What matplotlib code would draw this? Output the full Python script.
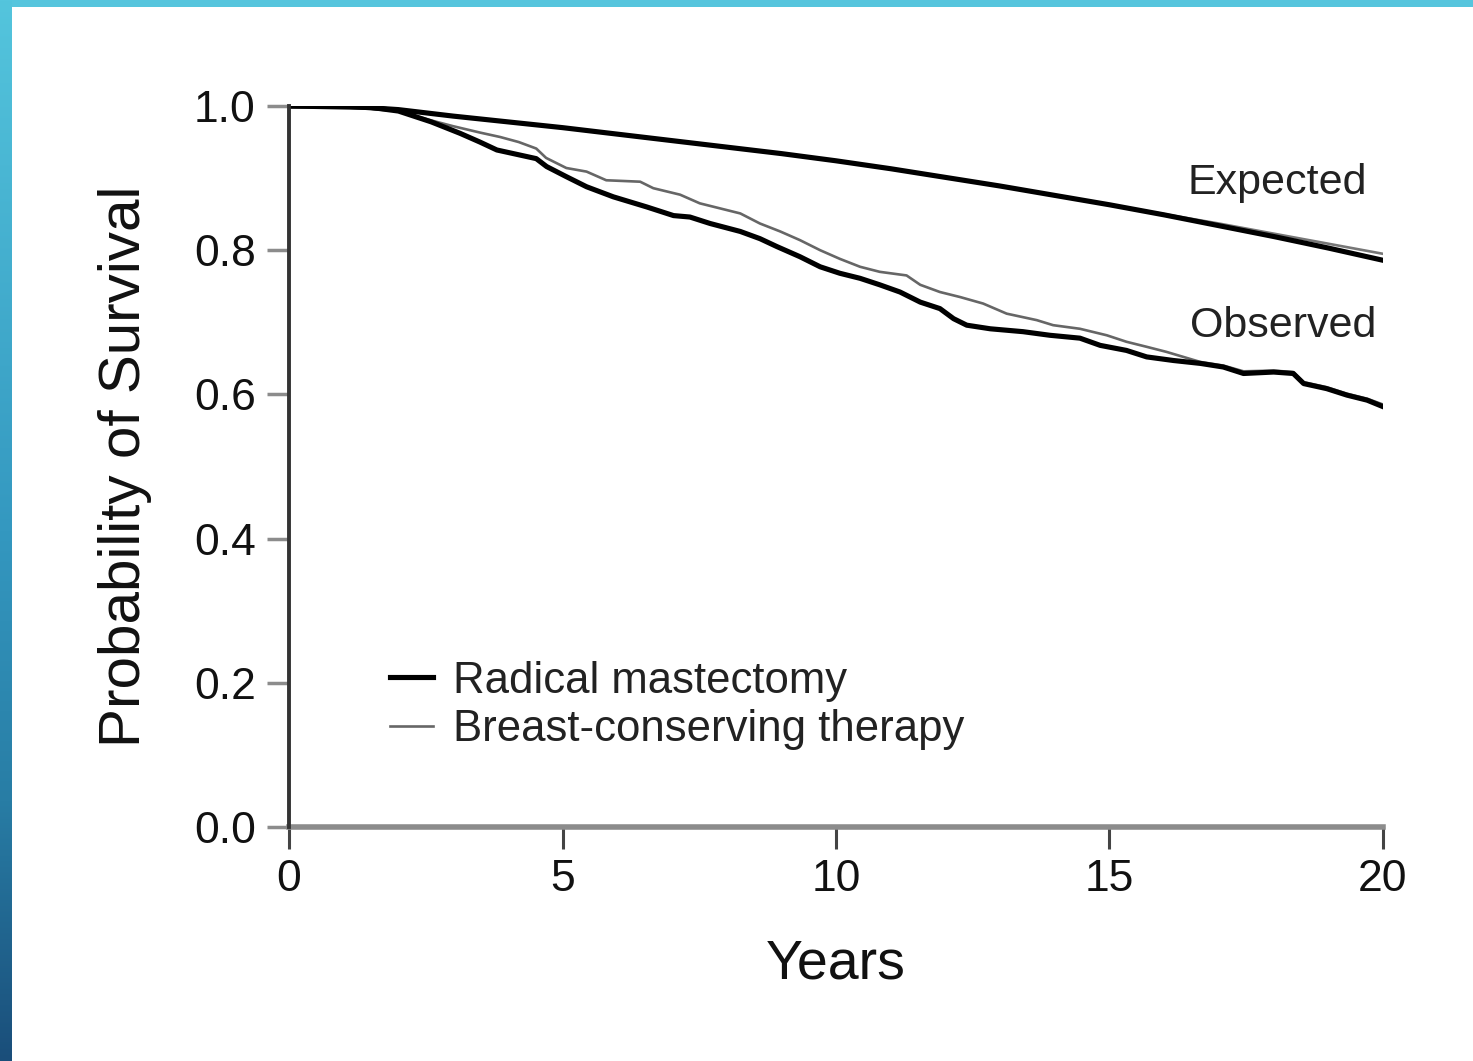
import numpy as np
import matplotlib
matplotlib.use("Agg")
import matplotlib.pyplot as plt

plt.rcParams['font.family'] = ['Liberation Sans', 'DejaVu Sans']

# Expected survival (general population), both groups
exp_years = [0, 1, 2, 3, 4, 5, 6, 7, 8, 9, 10, 11, 12, 13, 14, 15, 16, 17, 18, 19, 20]
exp_rm = [1.0, 1.0, 0.995, 0.986, 0.978, 0.970, 0.961, 0.952, 0.943, 0.934, 0.924,
          0.913, 0.901, 0.889, 0.876, 0.863, 0.849, 0.834, 0.819, 0.803, 0.786]
exp_bct = [1.0, 1.0, 0.995, 0.986, 0.978, 0.970, 0.961, 0.952, 0.943, 0.934, 0.924,
           0.913, 0.901, 0.889, 0.876, 0.863, 0.850, 0.837, 0.823, 0.809, 0.795]

# Observed survival, radical mastectomy
obs_rm_years = [0, 1.5, 2.0, 2.6, 3.13, 3.49, 3.8, 4.1, 4.52, 4.71, 5.07, 5.44, 5.93,
                6.54, 7.03, 7.33, 7.7, 8.25, 8.61, 8.92, 9.34, 9.71, 10.07, 10.44,
                10.8, 11.17, 11.54, 11.9, 12.15, 12.39, 12.82, 13.42, 13.91, 14.46,
                14.83, 15.31, 15.68, 16.17, 16.66, 17.08, 17.45, 18.0, 18.36, 18.55,
                18.97, 19.34, 19.71, 20.0]
obs_rm = [1.0, 0.998, 0.993, 0.978, 0.962, 0.950, 0.939, 0.934, 0.927, 0.916, 0.902,
          0.888, 0.874, 0.860, 0.848, 0.846, 0.837, 0.826, 0.816, 0.805, 0.791,
          0.777, 0.768, 0.761, 0.752, 0.742, 0.728, 0.719, 0.705, 0.696, 0.691,
          0.687, 0.682, 0.678, 0.668, 0.661, 0.652, 0.647, 0.643, 0.638, 0.629,
          0.631, 0.629, 0.615, 0.608, 0.599, 0.592, 0.583]

# Observed survival, breast-conserving therapy
obs_bct_years = [0, 1.5, 2.0, 2.6, 3.0, 3.5, 3.86, 4.2, 4.52, 4.7, 5.07, 5.44, 5.8,
                 6.42, 6.66, 7.15, 7.51, 7.88, 8.25, 8.61, 8.98, 9.34, 9.71, 10.07,
                 10.44, 10.8, 11.29, 11.54, 11.9, 12.27, 12.69, 13.12, 13.67, 13.97,
                 14.46, 14.95, 15.31, 15.68, 16.04, 16.66, 17.08, 17.45, 18.0, 18.36,
                 18.55, 18.97, 19.34, 19.71, 20.0]
obs_bct = [1.0, 0.998, 0.993, 0.980, 0.972, 0.963, 0.957, 0.950, 0.941, 0.928, 0.914,
           0.909, 0.897, 0.895, 0.886, 0.877, 0.865, 0.858, 0.851, 0.837, 0.826,
           0.814, 0.800, 0.788, 0.777, 0.770, 0.765, 0.752, 0.742, 0.735, 0.726,
           0.712, 0.703, 0.696, 0.691, 0.682, 0.673, 0.666, 0.659, 0.645, 0.640,
           0.632, 0.633, 0.631, 0.617, 0.610, 0.601, 0.594, 0.586]

x_ticks = [0, 5, 10, 15, 20]
y_ticks = [0.0, 0.2, 0.4, 0.6, 0.8, 1.0]

W, H = 1473, 1061
fig = plt.figure(figsize=(W / 100, H / 100), dpi=100)

# slide frame: cyan strip along the top, blue gradient strip down the left
bg = fig.add_axes([0, 0, 1, 1], zorder=-10)
frame = np.ones((H, W, 3))
frame[:7, :, :] = np.array([86, 197, 221]) / 255
stops_y = [0, 530, 800, H - 1]
stops_c = np.array([[84, 197, 221], [52, 152, 192], [40, 125, 165], [26, 78, 122]]) / 255
rows = np.arange(H)
grad = np.stack([np.interp(rows, stops_y, stops_c[:, k]) for k in range(3)], axis=1)
frame[:, :12, :] = grad[:, None, :]
bg.imshow(frame, aspect='auto', interpolation='nearest')
bg.axis('off')

ax = fig.add_axes([289 / W, 1 - 827 / H, (1383 - 289) / W, (827 - 106) / H])
ax.patch.set_alpha(0)

ax.plot(exp_years, exp_bct, color='#777777', lw=1.9, zorder=3)
ax.plot(exp_years, exp_rm, color='black', lw=3.7, zorder=4)
ax.plot(obs_rm_years, obs_rm, color='black', lw=3.7, zorder=4,
        label='Radical mastectomy')
ax.plot(obs_bct_years, obs_bct, color='#666666', lw=1.9, zorder=3,
        label='Breast-conserving therapy')

ax.set_xlim(0, 20)
ax.set_ylim(0, 1.0)
ax.set_xticks(x_ticks)
ax.set_xticklabels([str(t) for t in x_ticks])
ax.set_yticks(y_ticks)
ax.set_yticklabels([f'{t:.1f}' for t in y_ticks])

for side in ('top', 'right'):
    ax.spines[side].set_visible(False)
ax.spines['left'].set_color('#333333')
ax.spines['left'].set_linewidth(2.8)
ax.spines['bottom'].set_color('#8c8c8c')
ax.spines['bottom'].set_linewidth(4)
ax.spines['left'].set_zorder(5)

ax.tick_params(axis='x', direction='out', length=16, width=2.2, color='#444444',
               labelsize=32, pad=7, labelcolor='#111111')
ax.tick_params(axis='y', direction='out', length=16, width=2.5, color='#8c8c8c',
               labelsize=32, pad=8, labelcolor='#111111')

ax.set_xlabel('Years', fontsize=40, labelpad=28, color='#111111')
ax.set_ylabel('Probability of Survival', fontsize=42, labelpad=30, color='#111111')

ax.text(16.43, 0.893, 'Expected', fontsize=31, va='center', ha='left', color='#222222')
ax.text(16.47, 0.695, 'Observed', fontsize=31, va='center', ha='left', color='#222222')

ax.legend(loc='center left', bbox_to_anchor=(0.092, 0.1685), frameon=False,
          fontsize=31.5, handlelength=1.0, handletextpad=0.45, labelspacing=0.18,
          borderpad=0, borderaxespad=0, labelcolor='#222222')

fig.savefig('out.png', dpi=100)
